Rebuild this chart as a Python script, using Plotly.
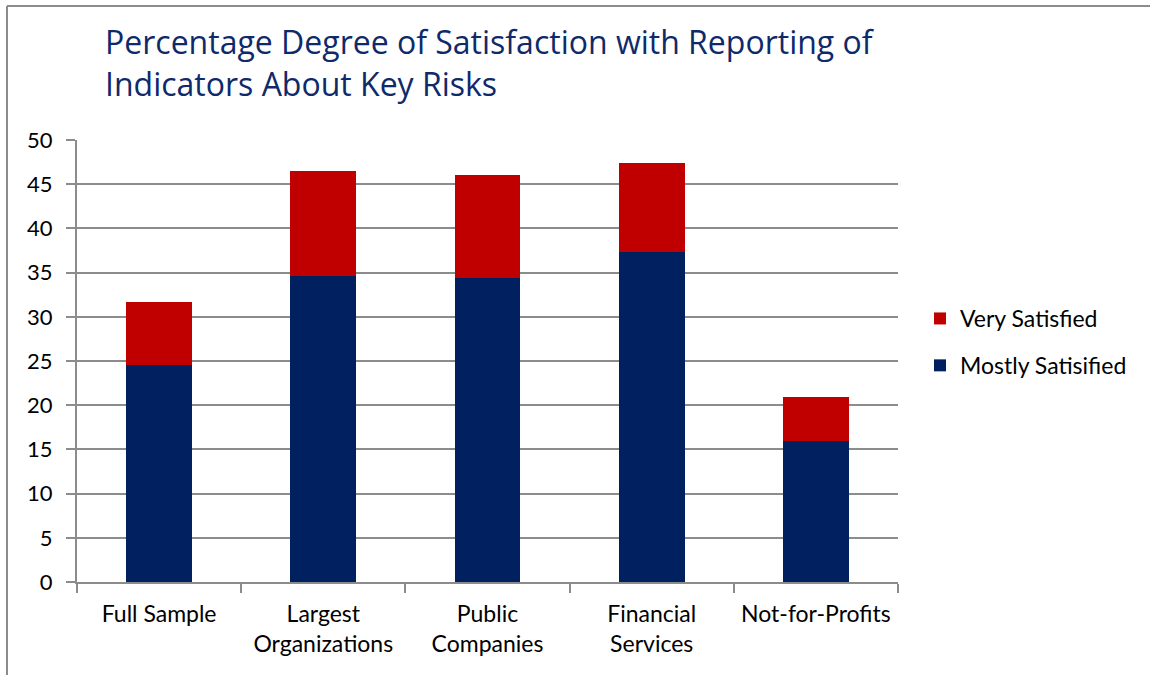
import plotly.graph_objects as go

# Survey groups and stacked satisfaction percentages
categories = ["Full Sample", "Largest<br>Organizations", "Public<br>Companies",
              "Financial<br>Services", "Not-for-Profits"]
mostly_satisfied = [24.5, 34.6, 34.4, 37.3, 16.0]
very_satisfied = [7.2, 11.9, 11.6, 10.1, 4.9]
y_ticks = [0, 5, 10, 15, 20, 25, 30, 35, 40, 45, 50]

NAVY = "#002060"
RED = "#C00000"
GRID = "#8C8C8C"
FONT = "Lato"

# plot area in pixels: x 77..898, y 140..582
PW, PH = 821, 442

fig = go.Figure()
fig.add_trace(go.Bar(
    x=categories, y=mostly_satisfied, name="Mostly Satisified",
    marker=dict(color=NAVY, line=dict(width=0)),
    legendgroup="mostly", legendrank=2,
))
fig.add_trace(go.Bar(
    x=categories, y=very_satisfied, name="Very Satisfied",
    marker=dict(color=RED, line=dict(width=0)),
    legendgroup="very", legendrank=1,
))

fig.update_layout(
    width=1150, height=675,
    barmode="stack", bargap=0.6,
    plot_bgcolor="white", paper_bgcolor="white",
    margin=dict(l=77, r=252, t=140, b=93),
    font=dict(family=FONT, color="black", size=22),
    legend=dict(
        x=(920 - 77) / PW, xanchor="left", y=(582 - 342) / PH, yanchor="middle",
        traceorder="grouped", tracegroupgap=14,
        font=dict(family=FONT, size=23, color="black"),
        itemwidth=30,
    ),
    xaxis=dict(
        showline=True, linecolor=GRID, linewidth=2,
        ticks="outside", tickson="boundaries", ticklen=9,
        tickcolor=GRID, tickwidth=2, ticklabelstandoff=10,
        tickfont=dict(size=23), showgrid=False,
    ),
    yaxis=dict(
        range=[0, 50], tickvals=y_ticks, showline=True, linecolor=GRID,
        linewidth=2, ticks="outside", ticklen=9, tickcolor=GRID, tickwidth=2,
        showgrid=True, gridcolor=GRID, gridwidth=2, zeroline=False,
        ticklabelstandoff=9, tickfont=dict(size=22),
    ),
)

# Two-line chart title
fig.add_annotation(
    text="Percentage Degree of Satisfaction with Reporting of<br>Indicators About Key Risks",
    xref="paper", yref="paper", x=(103 - 77) / PW, y=(582 - 63) / PH,
    xanchor="left", yanchor="middle", align="left", showarrow=False,
    font=dict(family="Open Sans", size=32, color="#0E2A6B"),
)

# Outer frame: top and left edges only
fig.add_shape(type="line", xref="paper", yref="paper",
              x0=-70 / PW, x1=1.35, y0=1 + 134 / PH, y1=1 + 134 / PH,
              line=dict(color=GRID, width=2))
fig.add_shape(type="line", xref="paper", yref="paper",
              x0=-70 / PW, x1=-70 / PW, y0=-0.3, y1=1 + 134 / PH,
              line=dict(color=GRID, width=2))

fig.write_html("out.html")
